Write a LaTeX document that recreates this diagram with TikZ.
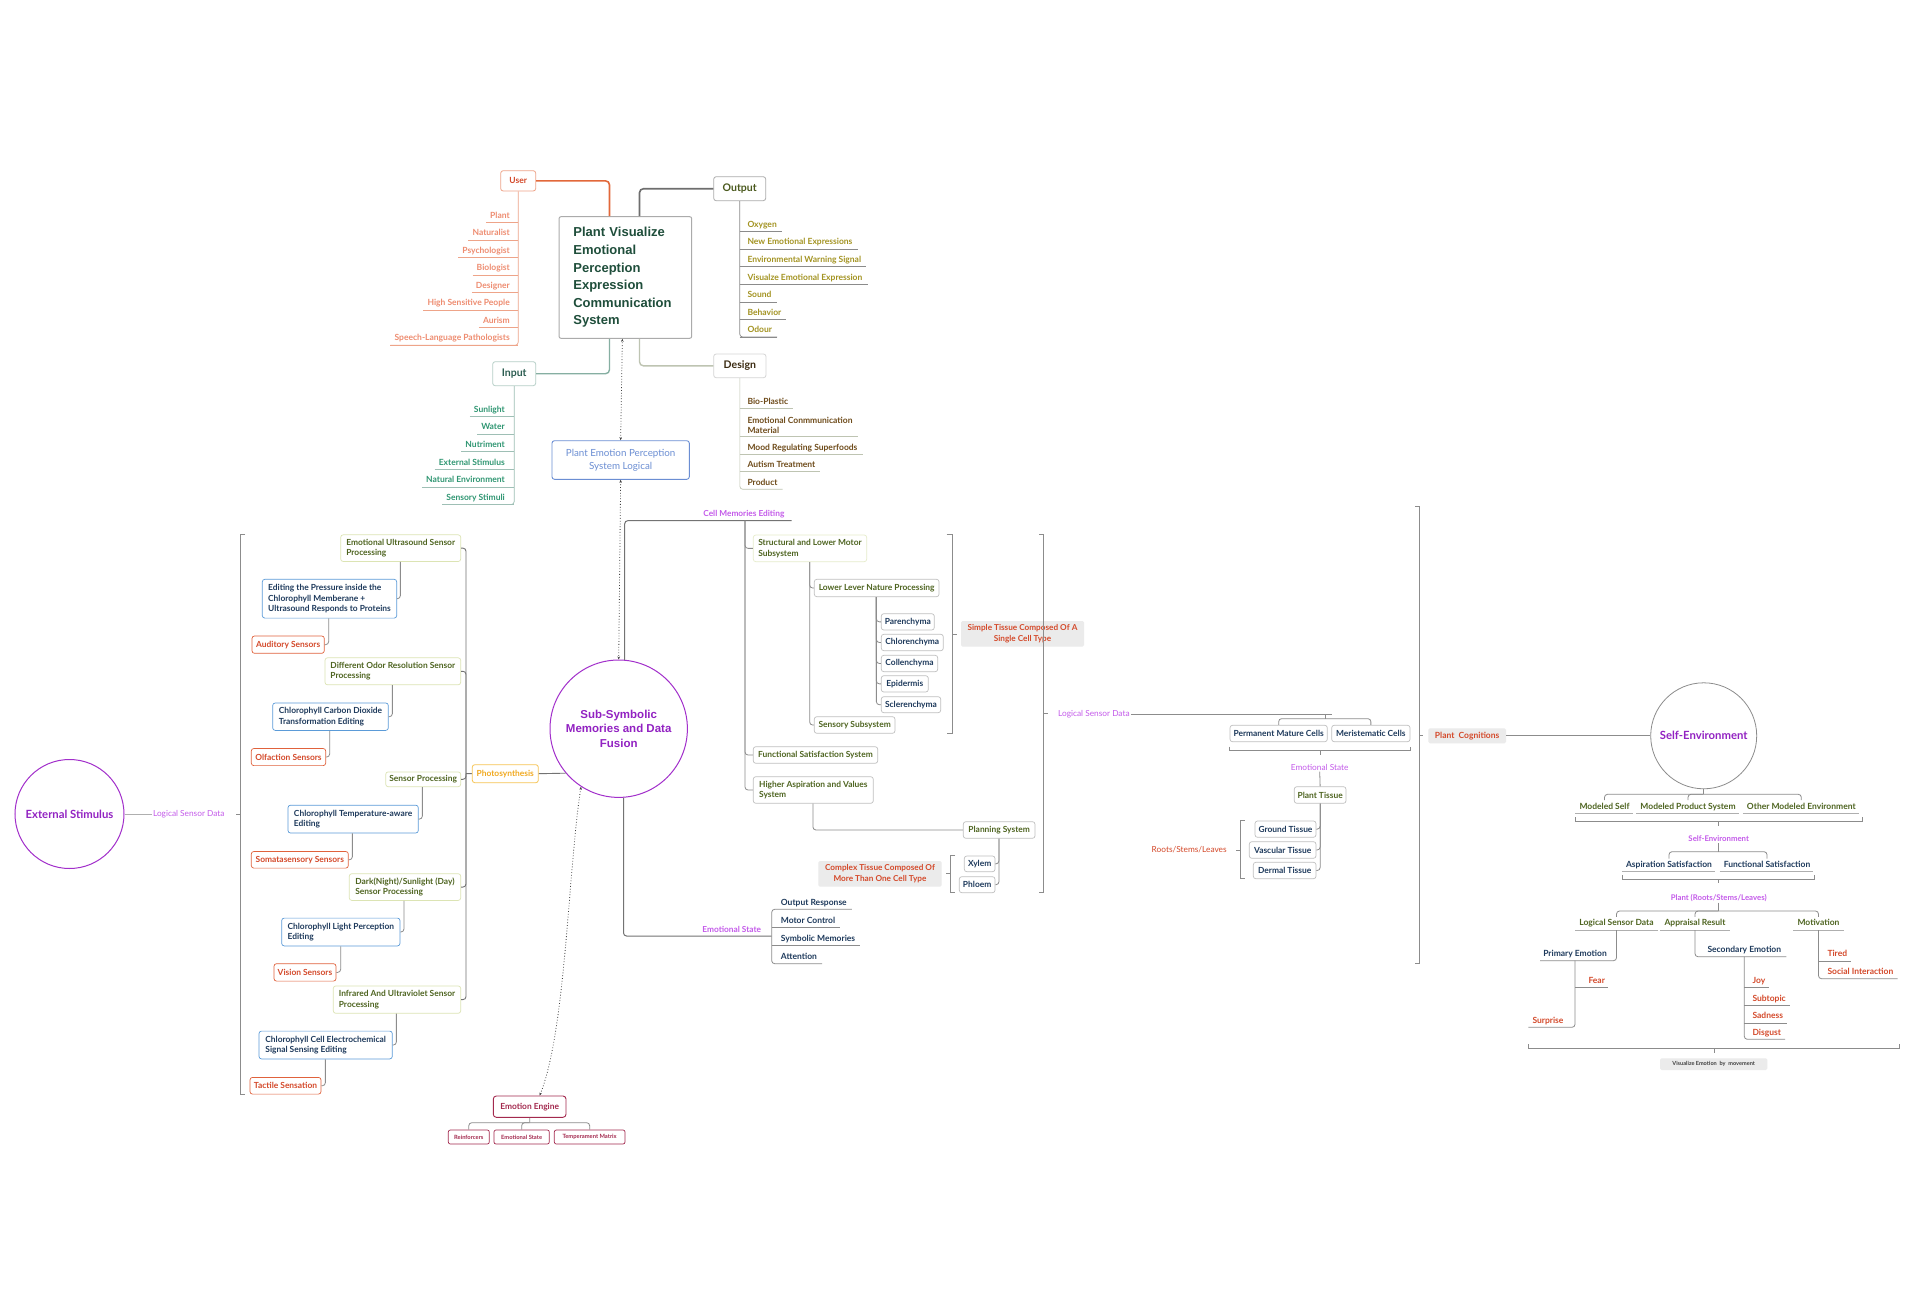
\documentclass[tikz,border=0pt]{standalone}
\usepackage{fontspec}
\setmainfont{Lato}
\newfontfamily\arialf{Liberation Sans}
\usetikzlibrary{calc,arrows.meta}
\definecolor{usr}{HTML}{E2683A}
\definecolor{usrt}{HTML}{EE8C70}
\definecolor{outl}{HTML}{6E6E6E}
\definecolor{outt}{HTML}{4B5A1E}
\definecolor{outc}{HTML}{A39321}
\definecolor{inpl}{HTML}{86AFA2}
\definecolor{inpt}{HTML}{2D5E52}
\definecolor{inpc}{HTML}{2F9672}
\definecolor{desl}{HTML}{BEC4B2}
\definecolor{dest}{HTML}{3B2B12}
\definecolor{desc}{HTML}{6E4B1A}
\definecolor{cbt}{HTML}{1F4E3B}
\definecolor{boxg}{HTML}{ABABAB}
\definecolor{pepc}{HTML}{6B8ED3}
\definecolor{purp}{HTML}{A22FCB}
\definecolor{purt}{HTML}{9222C2}
\definecolor{lpur}{HTML}{C45BEA}
\definecolor{olb}{HTML}{DCE4B4}
\definecolor{olt}{HTML}{4E6420}
\definecolor{blb}{HTML}{5B9BD8}
\definecolor{navy}{HTML}{1E3A5C}
\definecolor{redb}{HTML}{E0623C}
\definecolor{redt}{HTML}{D4492A}
\definecolor{phob}{HTML}{F6C453}
\definecolor{phot}{HTML}{F1A91F}
\definecolor{gfill}{HTML}{EBEBEB}
\definecolor{eng}{HTML}{A3294E}
\definecolor{conn}{HTML}{8C8C8C}
\newcommand\fsz[2]{\fontsize{#1}{#2}\selectfont}
\newcommand\Bx[7]{\pgfmathsetmacro\bw{#5-#3}\pgfmathsetmacro\bh{#6-#4}%
  \pgfmathsetmacro\bcx{(#3+#5)/2}\pgfmathsetmacro\bcy{(#4+#6)/2}%
  \node[#2,minimum width=\bw pt,minimum height=\bh pt] (#1) at (\bcx,\bcy) {#7};}
\tikzset{
  bxs/.style={rounded corners=2.5pt, line width=0.7pt, inner xsep=2.5pt, inner ysep=1pt, align=left, font=\fsz{8.4}{10.6}\bfseries},
  olbox/.style={bxs, draw=olb, text=olt},
  blbox/.style={bxs, draw=blb, text=navy},
  rdbox/.style={bxs, draw=redb, text=redt},
  gybox/.style={bxs, draw=boxg!75, text=navy},
  gobox/.style={bxs, draw=boxg!75, text=olt},
  gfl/.style={fill=gfill, rounded corners=1.5pt, align=center, text=redt, font=\fsz{8.2}{10.5}\bfseries, inner sep=1pt},
  ln/.style={draw=conn, line width=0.8pt, rounded corners=3pt},
  ul/.style={inner xsep=0pt, inner ysep=2.5pt, text height=6.2pt, text depth=1.6pt, font=\fsz{8.5}{10}\bfseries},
  brk/.style={draw=conn, line width=0.9pt},
  dots/.style={draw=black!75, dotted, line width=0.8pt, {Stealth[length=3pt,width=2.5pt]}-{Stealth[length=3pt,width=2.5pt]}},
  plab/.style={text=lpur, font=\fsz{8.3}{10}\bfseries, inner sep=1pt},
  topbox/.style={rounded corners=2.5pt, line width=0.8pt, inner sep=1pt, font=\fsz{10.5}{12}\bfseries}
}
\begin{document}
\begin{tikzpicture}[x=1pt,y=-1pt]
\useasboundingbox[fill=white] (0,0) rectangle (1920,1298);

% ---------- central top system ----------
\Bx{cb}{draw=boxg, line width=1pt, rounded corners=2pt, inner xsep=14.3pt, inner ysep=0pt, text width=104pt, align=left, text=cbt, font=\arialf\fsz{13}{17.6}\bfseries}{559}{216.7}{691.7}{338.3}{Plant Visualize\\Emotional\\Perception\\Expression\\Communication\\System}
\Bx{user}{topbox, draw=usr!60, text=redt, font=\fsz{8.5}{10}\bfseries}{500.7}{170.7}{535.7}{191}{User}
\Bx{out}{topbox, draw=boxg, text=outt}{713.7}{176.7}{765.7}{200.7}{Output}
\Bx{inp}{topbox, draw=inpl!60, text=inpt}{492.7}{361.7}{535.7}{385.7}{Input}
\Bx{des}{topbox, draw=boxg!50, text=dest}{713.7}{354}{766}{377.7}{Design}
\Bx{pep}{draw=pepc, line width=0.9pt, rounded corners=2.5pt, text=pepc, align=center, font=\fsz{9.8}{13}, inner sep=1pt}{552}{440.7}{689.3}{479.3}{Plant Emotion Perception\\System Logical}

\draw[draw=usr, line width=1.6pt, rounded corners=4pt] (user.east) -| ($(cb.north west)+(51,0)$);
\draw[draw=outl, line width=1.6pt, rounded corners=4pt] ($(cb.north west)+(81,0)$) |- (out.west);
\draw[draw=inpl, line width=1.4pt, rounded corners=4pt] ($(cb.south west)+(51,0)$) |- (inp.east);
\draw[draw=desl, line width=1.4pt, rounded corners=4pt] ($(cb.south west)+(81,0)$) |- (des.west);

% user children
\foreach \n/\t [count=\i] in {u1/Plant, u2/Naturalist, u3/Psychologist, u4/Biologist, u5/Designer, u6/High Sensitive People, u7/Aurism, u8/Speech-Language Pathologists}{
  \pgfmathsetmacro\yy{222.3+(\i-1)*17.57}
  \node[ul, text=usrt, anchor=south east] (\n) at (510,\yy) {\t};
  \draw[draw=usr!60, line width=0.7pt] ($(\n.south west)+(-4,0)$) -- (user.south |- \n.south);
}
\draw[draw=usr!60, line width=0.7pt, rounded corners=3pt] (user.south) |- ($(u8.south west)+(-4,0)$);

% output children
\foreach \n/\t [count=\i] in {o1/Oxygen, o2/New Emotional Expressions, o3/Environmental Warning Signal, o4/Visualze Emotional Expression, o5/Sound, o6/Behavior, o7/Odour}{
  \pgfmathsetmacro\yy{231.7+(\i-1)*17.55}
  \node[ul, text=outc, anchor=south west] (\n) at (747.3,\yy) {\t};
  \draw[draw=outl!80, line width=0.7pt] (out.south |- \n.south) -- ($(\n.south east)+(5,0)$);
}
\draw[draw=outl!80, line width=0.7pt, rounded corners=3pt] (out.south) |- ($(o7.south east)+(5,0)$);

% input children
\foreach \n/\t [count=\i] in {i1/Sunlight, i2/Water, i3/Nutriment, i4/External Stimulus, i5/Natural Environment, i6/Sensory Stimuli}{
  \pgfmathsetmacro\yy{416.7+(\i-1)*17.57}
  \node[ul, text=inpc, anchor=south east] (\n) at (505,\yy) {\t};
  \draw[draw=inpl!80, line width=0.7pt] ($(\n.south west)+(-4,0)$) -- (inp.south |- \n.south);
}
\draw[draw=inpl!80, line width=0.7pt, rounded corners=3pt] (inp.south) |- ($(i6.south west)+(-4,0)$);

% design children
\node[ul, text=desc, anchor=south west] (d1) at (747.3,408.3) {Bio-Plastic};
\node[font=\fsz{8.5}{10.7}\bfseries, text=desc, inner xsep=0pt, inner ysep=2.5pt, align=left, anchor=south west] (d2) at (747.3,436.7) {Emotional Conmmunication\\Material};
\node[ul, text=desc, anchor=south west] (d3) at (747.3,454.3) {Mood Regulating Superfoods};
\node[ul, text=desc, anchor=south west] (d4) at (747.3,471.7) {Autism Treatment};
\node[ul, text=desc, anchor=south west] (d5) at (747.3,489.3) {Product};
\foreach \n in {d1,d2,d3,d4}{\draw[draw=desl, line width=0.7pt] (des.south |- \n.south) -- ($(\n.south east)+(5,0)$);}
\draw[draw=desl, line width=0.7pt, rounded corners=3pt] (des.south) |- ($(d5.south east)+(5,0)$);

% ---------- sub-symbolic circle ----------
\node[circle, draw=purp, line width=1pt, minimum size=137.4pt, inner sep=0pt, align=center, text=purt, font=\arialf\fsz{11.5}{14.7}\bfseries] (ss) at (618.7,728.7) {Sub-Symbolic\\Memories and Data\\Fusion};
\draw[dots] (pep.north) -- ($(cb.south)+(-3,0)$);
\draw[dots] (pep.south) -- (ss.north);

% ---------- left column ----------
\node[circle, draw=purp, line width=1pt, minimum size=109pt, inner sep=0pt, text=purt, font=\fsz{11.3}{13}\bfseries] (ext) at (69.5,814) {External Stimulus};
\node[text=lpur, font=\fsz{8.3}{10}, inner sep=1pt] (lsd1) at (188.8,814) {Logical Sensor Data};
\draw[draw=conn!70, line width=0.8pt] (ext.east) -- (lsd1.west);
\draw[brk] (245,534) -- (240.7,534) -- (240.7,1094) -- (245,1094);
\draw[brk] (240.7,814.4) -- (236,814.4);

\Bx{eus}{olbox}{340.7}{534.8}{460.7}{561.5}{Emotional Ultrasound Sensor\\Processing}
\Bx{ep}{blbox}{262.3}{579.3}{396.7}{618.1}{Editing the Pressure inside the\\Chlorophyll Memberane +\\Ultrasound Responds to Proteins}
\Bx{aud}{rdbox}{252}{636}{324.3}{653.3}{Auditory Sensors}
\Bx{dor}{olbox}{325}{657.8}{460.7}{684.8}{Different Odor Resolution Sensor\\Processing}
\Bx{cco}{blbox}{272.7}{703}{388.3}{730.4}{Chlorophyll Carbon Dioxide\\Transformation Editing}
\Bx{olf}{rdbox}{251.3}{748.5}{325.7}{765.6}{Olfaction Sensors}
\Bx{sp}{olbox}{385.7}{771.9}{460.7}{786.7}{Sensor Processing}
\Bx{ctemp}{blbox}{288}{805.2}{418.3}{833}{Chlorophyll Temperature-aware\\Editing}
\Bx{som}{rdbox}{251.3}{851.5}{348.3}{868.1}{Somatasensory Sensors}
\Bx{dark}{olbox}{349.3}{873.7}{460.7}{900.4}{Dark(Night)/Sunlight (Day)\\Sensor Processing}
\Bx{clight}{blbox}{281.7}{918.1}{400}{945.9}{Chlorophyll Light Perception\\Editing}
\Bx{vis}{rdbox}{274}{963.7}{336}{981.1}{Vision Sensors}
\Bx{ir}{olbox}{333.3}{985.9}{460.7}{1013.3}{Infrared And Ultraviolet Sensor\\Processing}
\Bx{cel}{blbox}{259}{1031.1}{392.3}{1058.9}{Chlorophyll Cell Electrochemical\\Signal Sensing Editing}
\Bx{tac}{rdbox}{250}{1077.4}{321}{1094.1}{Tactile Sensation}
\Bx{photo}{rounded corners=2.5pt, draw=phob, line width=0.8pt, text=phot, font=\fsz{8.4}{10}\bfseries, inner sep=1pt}{472.3}{764.7}{538.3}{782.7}{Photosynthesis}

\draw[ln] ($(eus.south west)+(60,0)$) |- (ep.east);
\draw[ln] ($(ep.south west)+(66.7,0)$) |- (aud.east);
\draw[ln] ($(dor.south west)+(67.7,0)$) |- (cco.east);
\draw[ln] ($(cco.south west)+(57.3,0)$) |- (olf.east);
\draw[ln] ($(sp.south west)+(37,0)$) |- (ctemp.east);
\draw[ln] ($(ctemp.south west)+(64.7,0)$) |- (som.east);
\draw[ln] ($(dark.south west)+(55,0)$) |- (clight.east);
\draw[ln] ($(clight.south west)+(59.3,0)$) |- (vis.east);
\draw[ln] ($(ir.south west)+(63.4,0)$) |- (cel.east);
\draw[ln] ($(cel.south west)+(66.7,0)$) |- (tac.east);
\coordinate (trk) at (466,773.5);
\foreach \b in {eus,dor,sp,dark,ir}{\draw[ln, draw=black!55, line width=0.9pt] (\b.east) -| (trk);}
\draw[ln, draw=black!55, line width=0.9pt] (trk) -- (photo.west);
\draw[draw=black!55, line width=0.9pt] (photo.east) -- (ss.220.5);

% ---------- emotion engine ----------
\Bx{ee}{rounded corners=3pt, draw=eng, line width=0.9pt, text=eng, font=\fsz{8.4}{10}\bfseries, inner sep=1pt}{493.3}{1096}{566}{1117.3}{Emotion Engine}
\Bx{rein}{rounded corners=2pt, draw=eng, line width=0.7pt, text=eng, font=\fsz{5.8}{7}\bfseries, inner sep=0.5pt}{448.3}{1130}{489.3}{1144}{Reinforcers}
\Bx{es2}{rounded corners=2pt, draw=eng, line width=0.7pt, text=eng, font=\fsz{5.8}{7}\bfseries, inner sep=0.5pt}{494}{1130}{549.3}{1144}{Emotional State}
\Bx{tm}{rounded corners=2pt, draw=eng, line width=0.7pt, text=eng, font=\fsz{5.8}{7}\bfseries, inner sep=0.5pt}{554.3}{1130}{625}{1144}{Temperament Matrix}
\coordinate (eeJ) at (529.7,1122.7);
\draw[ln] (ee.south) -- (eeJ);
\draw[ln] (rein.north) |- (eeJ);
\draw[ln] (es2.north) |- (eeJ);
\draw[ln] (tm.north) |- (eeJ);
\draw[dots] (ss.237.7) .. controls (568,870) and (566,1030) .. ($(ee.north)+(10,0)$);

% ---------- cell memories branch ----------
\node[plab] (cme) at (743.85,513.7) {Cell Memories Editing};
\coordinate (cmE) at (791.7,520.7);
\coordinate (cmT) at (745,520.7);
\draw[ln, draw=black!55, line width=1pt] (ss.85.6) |- (cmE);
\Bx{slm}{bxs, draw=olb!70, text=olt}{753.3}{535}{866.7}{561.7}{Structural and Lower Motor\\Subsystem}
\Bx{llp}{gobox}{814.3}{579.3}{939}{596.7}{Lower Lever Nature Processing}
\Bx{par}{gybox}{881.3}{613.7}{934.3}{630}{Parenchyma}
\Bx{chl}{gybox}{881.3}{634.3}{943.3}{650.7}{Chlorenchyma}
\Bx{col}{gybox}{881.3}{655.3}{937.7}{671.7}{Collenchyma}
\Bx{epi}{gybox}{881.3}{675.7}{928.3}{692}{Epidermis}
\Bx{scl}{gybox}{881.3}{696.7}{940.7}{712.7}{Sclerenchyma}
\Bx{ssub}{gobox}{814.3}{716.7}{895}{733.3}{Sensory Subsystem}
\Bx{fss}{gobox}{753.3}{746.7}{877.7}{763.3}{Functional Satisfaction System}
\Bx{hav}{gobox}{753.3}{776.7}{873.3}{803.3}{Higher Aspiration and Values\\System}
\Bx{plan}{gobox}{963.3}{821.7}{1035}{838.3}{Planning System}
\Bx{xyl}{gybox}{964.3}{856}{995}{871.7}{Xylem}
\Bx{phl}{gybox}{959.3}{876.7}{995}{892.7}{Phloem}
\draw[ln] (cmT) |- (slm.west);
\draw[ln] (cmT) |- (fss.west);
\draw[ln] (cmT) |- (hav.west);
\draw[ln] ($(slm.south west)+(56.7,0)$) |- (llp.west);
\draw[ln] ($(slm.south west)+(56.7,0)$) |- (ssub.west);
\foreach \b in {par,chl,col,epi,scl}{\draw[ln] ($(llp.south west)+(62.4,0)$) |- (\b.west);}
\draw[ln] ($(hav.south west)+(60,0)$) |- (plan.west);
\draw[ln] ($(plan.south west)+(36,0)$) |- (xyl.east);
\draw[ln] ($(plan.south west)+(36,0)$) |- (phl.east);

\draw[brk] (946.7,534) -- (952.3,534) -- (952.3,733.3) -- (946.7,733.3);
\draw[brk] (952.3,634) -- (956.7,634);
\Bx{stl}{gfl}{961}{621}{1084}{646.7}{Simple Tissue Composed Of A\\Single Cell Type}
\draw[brk] (955,855) -- (950.7,855) -- (950.7,892.7) -- (955,892.7);
\draw[brk] (950.7,873.3) -- (946,873.3);
\Bx{ctl}{gfl}{818.3}{861}{941.7}{886.7}{Complex Tissue Composed Of\\More Than One Cell Type}
\draw[brk] (1039.3,534) -- (1043.8,534) -- (1043.8,892.7) -- (1039.3,892.7);
\draw[brk] (1043.8,713.3) -- (1048.3,713.3);

% emotional state (centre)
\coordinate (esE) at (771.7,936);
\draw[ln, draw=black!55, line width=1pt] (ss.274.4) |- (esE);
\node[plab] (esm) at (731.7,929) {Emotional State};
\node[ul, text=navy, anchor=south west] (e1) at (780.7,909.3) {Output Response};
\node[ul, text=navy, anchor=south west] (e2) at (780.7,927.3) {Motor Control};
\node[ul, text=navy, anchor=south west] (e3) at (780.7,945.3) {Symbolic Memories};
\node[ul, text=navy, anchor=south west] (e4) at (780.7,963.7) {Attention};
\draw[ln] ($(e1.south east)+(5,0)$) -- (e1.south -| esE) -- (e4.south -| esE) -- ($(e4.south east)+(5,0)$);
\draw[ln] (e2.south -| esE) -- ($(e2.south east)+(5,0)$);
\draw[ln] (e3.south -| esE) -- ($(e3.south east)+(5,0)$);

% ---------- tissue branch ----------
\node[plab, font=\fsz{8.3}{10}] (lsd2) at (1093.9,714) {Logical Sensor Data};
\coordinate (pmJ) at (1325,714);
\draw[ln] (lsd2.east) -- ($(pmJ)+(6.7,0)$);
\draw[ln] (pmJ) -- ++(0,5);
\Bx{pmc}{gybox}{1230}{725.3}{1327.3}{741.7}{Permanent Mature Cells}
\Bx{mer}{gybox}{1331.7}{725.3}{1410}{741.7}{Meristematic Cells}
\draw[ln] (pmc.north) -- ++(0,-6.3) -| (mer.north);
\draw[brk] (1229.3,746.7) -- (1229.3,750.7) -- (1410.7,750.7) -- (1410.7,746.7);
\draw[brk] (1320,750.7) -- (1320,755);
\node[plab, font=\fsz{8.3}{10}] (esl) at (1319.7,767.3) {Emotional State};
\Bx{pt}{gobox}{1294.3}{786.7}{1346}{803.3}{Plant Tissue}
\draw[ln] (esl.south) -- (pt.north);
\Bx{gt}{gybox}{1255}{821}{1316}{837.3}{Ground Tissue}
\Bx{vt}{gybox}{1249.3}{841.7}{1316}{858.3}{Vascular Tissue}
\Bx{dt}{gybox}{1253.3}{862.3}{1316}{878.7}{Dermal Tissue}
\draw[ln] (pt.south) |- (gt.east);
\draw[ln] (pt.south) |- (vt.east);
\draw[ln] (pt.south) |- (dt.east);
\draw[brk] (1245,820.7) -- (1240.7,820.7) -- (1240.7,878.7) -- (1245,878.7);
\draw[brk] (1240.7,850) -- (1236,850);
\node[text=redt, font=\fsz{8.3}{10}, inner sep=1pt] (rsl) at (1189.2,850) {Roots/Stems/Leaves};

\draw[brk] (1415,506.7) -- (1419.3,506.7) -- (1419.3,963.3) -- (1415,963.3);
\draw[brk] (1419.3,735.7) -- (1423.3,735.7);
\Bx{plc}{gfl, font=\fsz{8.5}{10}\bfseries}{1428.3}{728.3}{1506}{743.3}{Plant\ \ Cognitions}

% ---------- self environment ----------
\node[circle, draw=black!45, line width=0.8pt, minimum size=106pt, inner sep=0pt, text=purt, font=\fsz{11.3}{13}\bfseries] (se) at (1703.7,735.8) {Self-Environment};
\draw[ln] (plc.east) -- (se.west);
\coordinate (seJ) at (1703.7,794.3);
\node[ul, text=olt, anchor=south] (ms) at (1604.5,813.3) {Modeled Self};
\node[ul, text=olt, anchor=south] (mps) at (1688,813.3) {Modeled Product System};
\node[ul, text=olt, anchor=south] (ome) at (1801.3,813.3) {Other Modeled Environment};
\draw[ln] (se.south) -- (seJ);
\draw[ln] (ms.north) |- (seJ);
\draw[ln] (mps.north) |- (seJ);
\draw[ln] (ome.north) |- (seJ);
\foreach \n in {ms,mps,ome}{\draw[draw=conn!70, line width=0.7pt] ($(\n.south west)+(-4,0)$) -- ($(\n.south east)+(3,0)$);}
\draw[brk] (1575,817.3) -- (1575,821.7) -- (1862.3,821.7) -- (1862.3,817.3);
\draw[brk] (1718.7,821.7) -- (1718.7,826);
\node[plab, font=\fsz{7.8}{9}\bfseries] (se2) at (1718.7,839) {Self-Environment};
\coordinate (asJ) at (1718.7,851.7);
\node[ul, text=navy, anchor=south] (asp) at (1669,871.7) {Aspiration Satisfaction};
\node[ul, text=navy, anchor=south] (fun) at (1767,871.7) {Functional Satisfaction};
\draw[ln] (se2.south) -- (asJ);
\draw[ln] (asp.north) |- (asJ);
\draw[ln] (fun.north) |- (asJ);
\foreach \n in {asp,fun}{\draw[draw=conn!70, line width=0.7pt] ($(\n.south west)+(-4,0)$) -- ($(\n.south east)+(3,0)$);}
\draw[brk] (1622.7,875) -- (1622.7,879.3) -- (1814,879.3) -- (1814,875);
\draw[brk] (1718.7,879.3) -- (1718.7,883.3);
\node[plab, font=\fsz{7.8}{9}\bfseries] (prl) at (1718.7,897.7) {Plant (Roots/Stems/Leaves)};
\coordinate (prJ) at (1718.7,911);
\node[ul, text=olt, anchor=south] (lsd3) at (1616.5,930) {Logical Sensor Data};
\node[ul, text=olt, anchor=south] (app) at (1695,930) {Appraisal Result};
\node[ul, text=olt, anchor=south] (mot) at (1818.5,930) {Motivation};
\draw[ln] (prl.south) -- (prJ);
\draw[ln] (lsd3.north) |- (prJ);
\draw[ln] (app.north) |- (prJ);
\draw[ln] (mot.north) |- (prJ);
\foreach \n in {lsd3,app,mot}{\draw[draw=conn!70, line width=0.7pt] ($(\n.south west)+(-4,0)$) -- ($(\n.south east)+(4,0)$);}
\node[ul, text=navy, anchor=south] (pe) at (1575,960.7) {Primary Emotion};
\node[ul, text=navy, anchor=south] (sec) at (1744.3,956.7) {Secondary Emotion};
\draw[ln] (lsd3.south) |- ($(pe.south west)+(-3,0)$);
\draw[ln] (app.south) |- ($(sec.south east)+(5,0)$);
\node[ul, text=redt, anchor=south west] (fear) at (1588.3,987.7) {Fear};
\node[ul, text=redt, anchor=south west] (sur) at (1532.3,1027.3) {Surprise};
\draw[ln] (pe.south) |- ($(sur.south west)+(-4,0)$);
\draw[ln] (pe.south |- fear.south) -- ($(fear.south east)+(3,0)$);
\node[ul, text=redt, anchor=south west] (joy) at (1752.3,987.7) {Joy};
\node[ul, text=redt, anchor=south west] (sbt) at (1752.3,1005.3) {Subtopic};
\node[ul, text=redt, anchor=south west] (sad) at (1752.3,1023) {Sadness};
\node[ul, text=redt, anchor=south west] (dis) at (1752.3,1039.3) {Disgust};
\draw[ln] (sec.south) |- ($(dis.south east)+(4,0)$);
\foreach \n in {joy,sbt,sad}{\draw[ln] (sec.south |- \n.south) -- ($(\n.south east)+(4,0)$);}
\node[ul, text=redt, anchor=south west] (tir) at (1827.3,961) {Tired};
\node[ul, text=redt, anchor=south west] (soc) at (1827.3,978.7) {Social Interaction};
\draw[ln] (mot.south) |- ($(soc.south east)+(4,0)$);
\draw[ln] (mot.south |- tir.south) -- ($(tir.south east)+(4,0)$);
\draw[brk] (1528.3,1044) -- (1528.3,1048.3) -- (1899.3,1048.3) -- (1899.3,1044);
\draw[brk] (1714,1048.3) -- (1714,1052.7);
\Bx{viz}{fill=gfill, rounded corners=1.5pt, text=black!75, font=\fsz{5.6}{7}\bfseries, inner sep=0.5pt}{1660}{1058.3}{1767.3}{1070}{Visualize Emotion\ \ by\ \ movement}
\end{tikzpicture}
\end{document}
